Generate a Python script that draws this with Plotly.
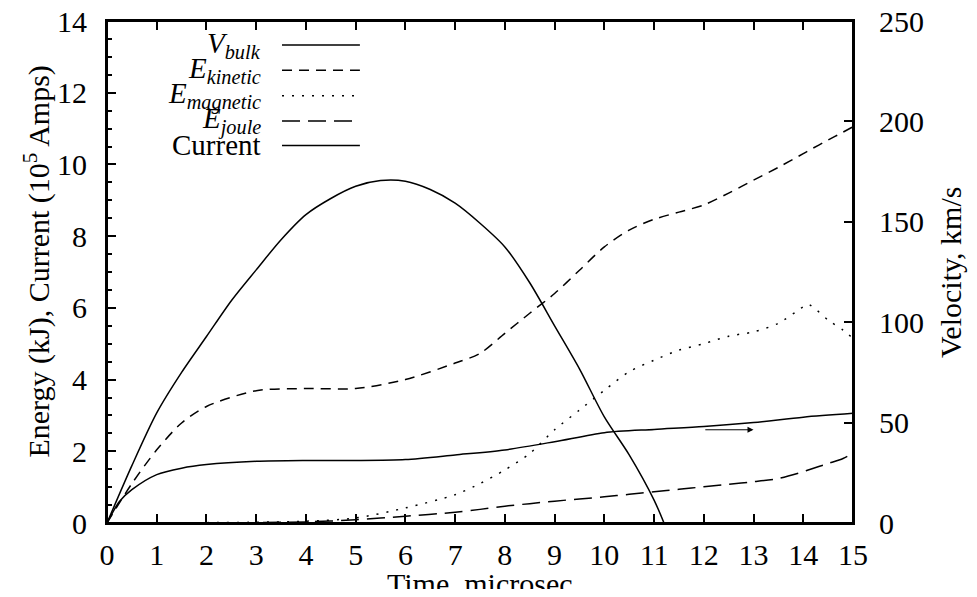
import plotly.graph_objects as go


# Time axis samples (microsec) and series

t_current = [0, 0.5, 1, 1.5, 2, 2.5, 3, 3.5, 4, 4.5, 5, 5.5, 6, 6.5, 7, 7.5,
             8, 8.5, 9, 9.5, 10, 10.5, 11, 11.2]
current = [0, 1.6, 3.07, 4.2, 5.2, 6.2, 7.06, 7.9, 8.6, 9.05, 9.39, 9.55,
           9.53, 9.3, 8.92, 8.36, 7.7, 6.7, 5.5, 4.3, 2.96, 1.9, 0.64, 0]

t_energy = [0, 0.5, 1, 1.5, 2, 3, 4, 5, 6, 7, 7.5, 8, 8.5, 9, 9.5, 10, 10.5,
            11, 11.5, 12, 12.5, 13, 13.5, 14, 14.1, 14.5, 14.8, 15]
e_kinetic = [0, 1.1, 2.04, 2.79, 3.25, 3.69, 3.75, 3.75, 4.0, 4.46, 4.73,
             5.29, 5.85, 6.4, 7.05, 7.7, 8.17, 8.47, 8.67, 8.87, 9.2, 9.56,
             9.92, 10.3, 10.38, 10.68, 10.9, 11.05]
e_magnetic = [0, 0, 0, 0, 0.01, 0.02, 0.05, 0.14, 0.42, 0.79, 1.1, 1.48,
              1.94, 2.6, 3.15, 3.7, 4.22, 4.54, 4.82, 5.0, 5.21, 5.33, 5.57,
              6.03, 6.1, 5.66, 5.38, 5.15]
e_joule = [0, 0, 0, 0, 0, 0.01, 0.03, 0.09, 0.19, 0.3, 0.38, 0.47, 0.54,
           0.61, 0.67, 0.73, 0.8, 0.87, 0.94, 1.01, 1.08, 1.15, 1.24, 1.43,
           1.48, 1.66, 1.8, 1.94]

t_velocity = [0, 0.25, 0.5, 1, 1.5, 2, 3, 4, 5, 6, 7, 8, 9, 10, 11, 12, 13,
              14, 15]
v_bulk = [0, 10.7, 16.6, 24.1, 27.3, 29.1, 30.7, 31.1, 31.1, 31.6, 33.9, 36.4,
          40.5, 45.0, 46.6, 48.0, 50.0, 52.7, 54.6]

legend_names = ["<i>V</i><sub><i>bulk</i></sub>",
                "<i>E</i><sub><i>kinetic</i></sub>",
                "<i>E</i><sub><i>magnetic</i></sub>",
                "<i>E</i><sub><i>joule</i></sub>",
                "Current"]
legend_dashes = ["solid", "10px,7px", "2px,8px", "18px,8px", "solid"]

x_title = "Time, microsec"
y_title = "Energy (kJ), Current (10<sup>5</sup> Amps)"
y2_title = "Velocity, km/s"

# arrow pointing to the velocity curve (right axis)
arrow_tail = (12.0, 2.6)
arrow_head = (13.0, 2.6)

FONT = "Liberation Serif"
line_w = 1.5
tick_txt = dict(family=FONT, size=30, color="black")
title_txt = dict(family=FONT, size=30, color="black")


def curve(x, y, dash, axis="y"):
    return go.Scatter(x=x, y=y, yaxis=axis, mode="lines",
                      line=dict(color="black", width=line_w, dash=dash,
                                shape="spline", smoothing=0.8))


fig = go.Figure()
fig.add_trace(curve(t_velocity, v_bulk, legend_dashes[0], "y2"))
fig.add_trace(curve(t_energy, e_kinetic, legend_dashes[1]))
fig.add_trace(curve(t_energy, e_magnetic, legend_dashes[2]))
fig.add_trace(curve(t_energy, e_joule, legend_dashes[3]))
fig.add_trace(curve(t_current, current, legend_dashes[4]))

# gnuplot style key: text right aligned, sample line to its right
row_y = [0.952, 0.902, 0.851, 0.801, 0.752]
for name, dash, yy in zip(legend_names, legend_dashes, row_y):
    fig.add_annotation(x=0.209, y=yy, xref="paper", yref="paper", text=name,
                       showarrow=False, xanchor="right", yanchor="middle",
                       font=dict(family=FONT, size=29, color="black"))
    fig.add_shape(type="line", xref="paper", yref="paper",
                  x0=0.2346, x1=0.339, y0=yy, y1=yy,
                  line=dict(color="black", width=line_w, dash=dash))

# axis titles as annotations (axis titles get squeezed into the fixed margins)
fig.add_annotation(x=0.5, y=-0.12, xref="paper", yref="paper", text=x_title,
                   showarrow=False, xanchor="center", yanchor="middle", font=title_txt)
fig.add_annotation(x=-0.093, y=0.52, xref="paper", yref="paper", text=y_title,
                   showarrow=False, textangle=-90, xanchor="center", yanchor="middle",
                   font=title_txt)
fig.add_annotation(x=1.13, y=0.5, xref="paper", yref="paper", text=y2_title,
                   showarrow=False, textangle=-90, xanchor="center", yanchor="middle",
                   font=title_txt)

# full frame around the plot area
fig.add_shape(type="rect", xref="paper", yref="paper", x0=0, x1=1, y0=0, y1=1,
              line=dict(color="black", width=2), layer="above")

fig.add_annotation(x=arrow_head[0], y=arrow_head[1], ax=arrow_tail[0], ay=arrow_tail[1],
                   xref="x", yref="y", axref="x", ayref="y", text="",
                   showarrow=True, arrowhead=2, arrowsize=1.2, arrowwidth=1,
                   arrowcolor="black")

# page body has an 8px margin on every side: keep the figure inside the window
fig.update_layout(
    width=961, height=581,
    margin=dict(l=99, r=116, t=13, b=66, autoexpand=False),
    paper_bgcolor="white", plot_bgcolor="white",
    showlegend=False,
    hovermode=False,
    font=tick_txt,
    xaxis=dict(
        range=[0, 15], dtick=1, tick0=0, automargin=False,
        showline=True, linecolor="black", linewidth=2, mirror="ticks",
        ticks="inside", ticklen=9, tickwidth=1.5, tickcolor="black",
        showgrid=False, zeroline=False, tickfont=tick_txt,
        ticklabeloverflow="allow", ticklabelstandoff=4,
    ),
    yaxis=dict(
        range=[0, 14], dtick=2, tick0=0, automargin=False,
        showline=True, linecolor="black", linewidth=2,
        ticks="inside", ticklen=9, tickwidth=1.5, tickcolor="black",
        minor=dict(dtick=0.5, ticks="inside", ticklen=5, tickcolor="black", tickwidth=1.5),
        showgrid=False, zeroline=False, tickfont=tick_txt,
        ticklabeloverflow="allow", ticklabelstandoff=12,
    ),
    yaxis2=dict(
        range=[0, 250], dtick=50, tick0=0, overlaying="y", side="right",
        automargin=False,
        showline=True, linecolor="black", linewidth=2,
        ticks="inside", ticklen=9, tickwidth=1.5, tickcolor="black",
        showgrid=False, zeroline=False, tickfont=tick_txt,
        ticklabeloverflow="allow", ticklabelstandoff=18,
    ),
)

fig.write_html("out.html")
